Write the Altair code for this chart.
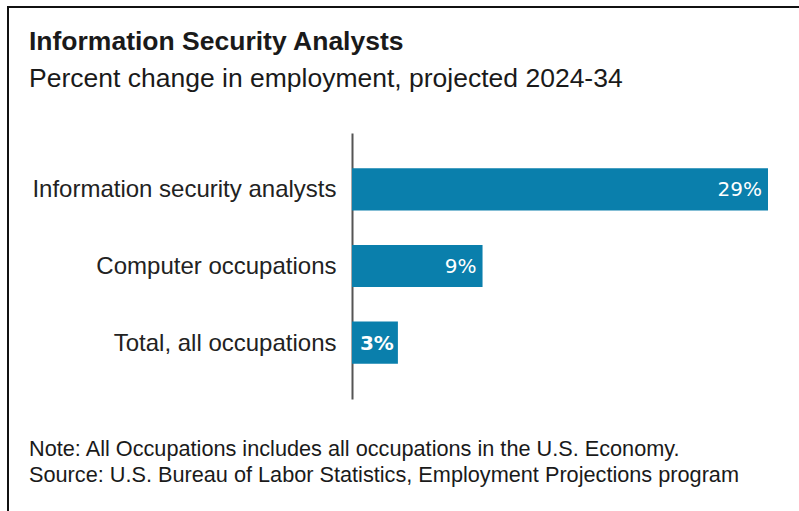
import altair as alt
import pandas as pd

# ---- data ----
categories = ["Information security analysts", "Computer occupations", "Total, all occupations"]
values = [29.0, 9.1, 3.2]
value_labels = ["29%", "9%", "3%"]
label_weights = ["normal", "normal", "bold"]

title_text = "Information Security Analysts"
subtitle_text = "Percent change in employment, projected 2024-34"
note_lines = [
    "Note: All Occupations includes all occupations in the U.S. Economy.",
    "Source: U.S. Bureau of Labor Statistics, Employment Projections program",
]

df = pd.DataFrame({
    "category": categories,
    "value": values,
    "label": value_labels,
    "weight": label_weights,
})

BAR = "#0a7fac"
FONT = "Liberation Sans"
LABEL_FONT = "DejaVu Sans"

W, H = 416, 266
PAD_L, PAD_T = 352, 133
TOTAL_W, TOTAL_H = 799, 511

y_enc = alt.Y(
    "category:N",
    sort=categories,
    title=None,
    scale=alt.Scale(paddingInner=0.45, paddingOuter=0.46),
    axis=alt.Axis(
        ticks=False,
        domain=True,
        domainColor="#555555",
        domainWidth=2,
        labelFont=FONT,
        labelFontSize=24,
        labelColor="#222222",
        labelPadding=16,
        labelLimit=400,
        labelOffset=1,
        grid=False,
    ),
)
x_enc = alt.X("value:Q", scale=alt.Scale(domain=[0, 29], nice=False, zero=True), axis=None)

base = alt.Chart(df)

bars = base.mark_bar(color=BAR).encode(x=x_enc, y=y_enc)

labels_normal = base.transform_filter(alt.datum.weight == "normal").mark_text(
    align="right", baseline="middle", dx=-6, dy=1, color="white", font=LABEL_FONT, fontSize=20
).encode(x=x_enc, y=alt.Y("category:N", sort=categories), text="label:N")

labels_bold = base.transform_filter(alt.datum.weight == "bold").mark_text(
    align="right", baseline="middle", dx=-4, dy=1, color="white", font=LABEL_FONT,
    fontSize=20, fontWeight="bold"
).encode(x=x_enc, y=alt.Y("category:N", sort=categories), text="label:N")

one = alt.Data(values=[{"a": 1}])

title_mark = alt.Chart(one).mark_text(
    align="left", baseline="alphabetic", font=FONT, fontSize=26.5, fontWeight="bold", color="#1a1a1a",
    text=title_text,
).encode(x=alt.value(29 - PAD_L), y=alt.value(50 - PAD_T))

subtitle_mark = alt.Chart(one).mark_text(
    align="left", baseline="alphabetic", font=FONT, fontSize=26.5, color="#1a1a1a",
    text=subtitle_text,
).encode(x=alt.value(29 - PAD_L), y=alt.value(87 - PAD_T))

note_mark = alt.Chart(one).mark_text(
    align="left", baseline="alphabetic", font=FONT, fontSize=21.7, color="#1a1a1a",
    text=note_lines[0],
).encode(x=alt.value(29 - PAD_L), y=alt.value(456 - PAD_T))

source_mark = alt.Chart(one).mark_text(
    align="left", baseline="alphabetic", font=FONT, fontSize=21.7, color="#1a1a1a",
    text=note_lines[1],
).encode(x=alt.value(29 - PAD_L), y=alt.value(482 - PAD_T))

frame_top = alt.Chart(one).mark_rule(color="#111111", strokeWidth=2).encode(
    x=alt.value(7 - PAD_L), x2=alt.value(TOTAL_W - PAD_L), y=alt.value(7 - PAD_T)
)
frame_left = alt.Chart(one).mark_rule(color="#111111", strokeWidth=2).encode(
    x=alt.value(8 - PAD_L), y=alt.value(6 - PAD_T), y2=alt.value(TOTAL_H - PAD_T)
)

chart = alt.layer(
    bars, labels_normal, labels_bold,
    title_mark, subtitle_mark, note_mark, source_mark,
    frame_top, frame_left,
).properties(
    width=W,
    height=H,
    autosize=alt.AutoSizeParams(type="none"),
    padding={"left": PAD_L, "top": PAD_T, "right": TOTAL_W - PAD_L - W, "bottom": TOTAL_H - PAD_T - H},
    background="white",
).configure_view(stroke=None)

chart.save("out.html", embed_options={"renderer": "svg", "actions": False})
